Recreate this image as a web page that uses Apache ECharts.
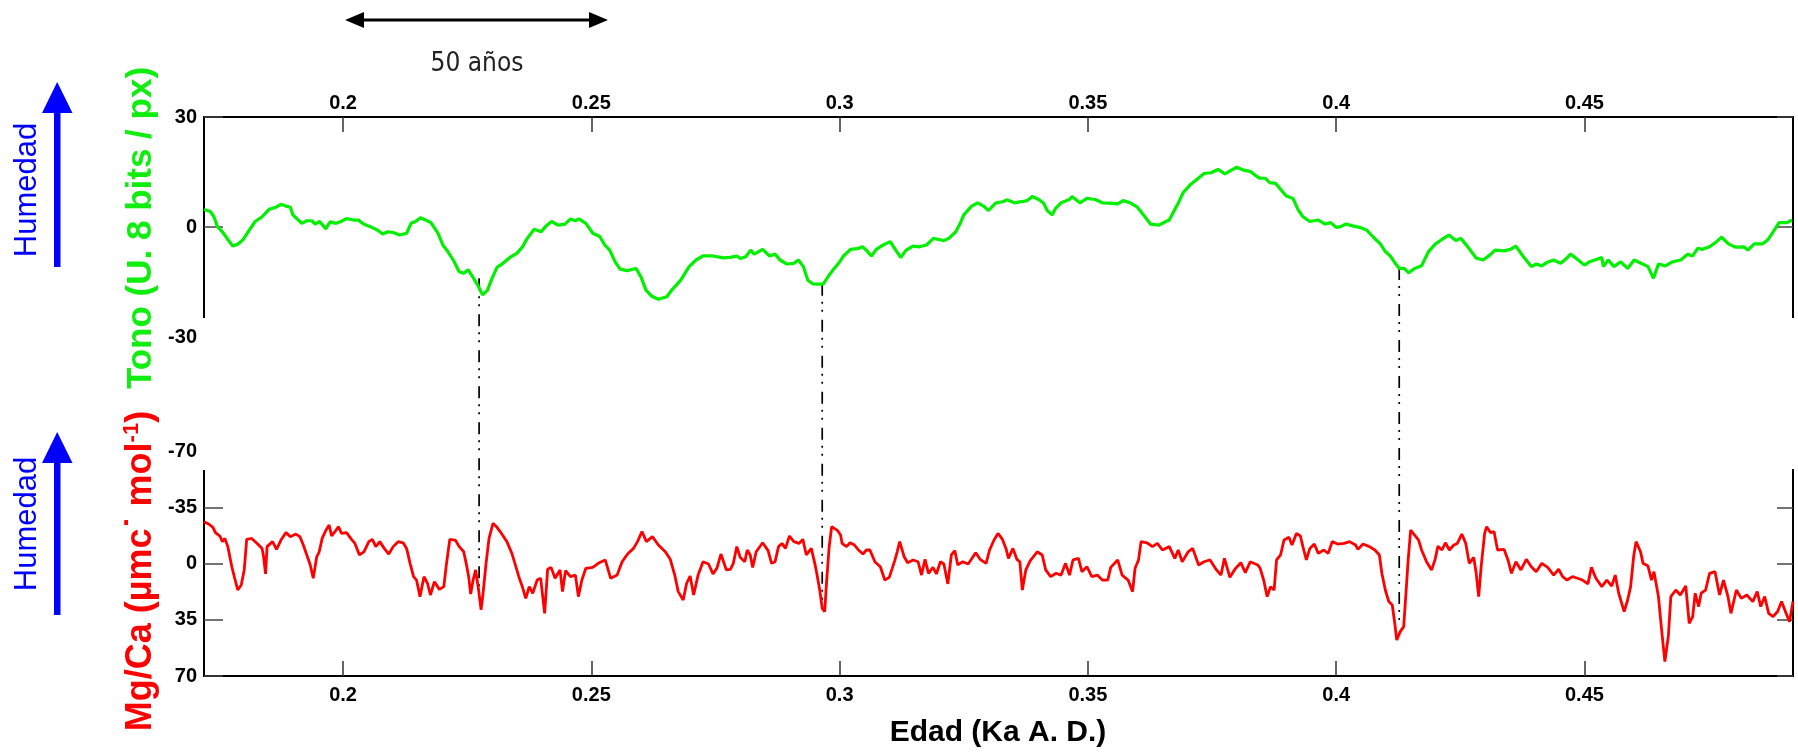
<!DOCTYPE html>
<html><head><meta charset="utf-8">
<script src="https://cdn.jsdelivr.net/npm/echarts@6/dist/echarts.min.js"></script>
<style>html,body{margin:0;padding:0;background:#fff}#c{width:1798px;height:752px}</style>
</head><body><div id="c"></div>
<script>
// ---- tick labels ----
const xTicks = [0.2, 0.25, 0.3, 0.35, 0.4, 0.45];
const tonoTicks = [-30, 0, 30];
const mgTicks = [-70, -35, 0, 35, 70];

// ---- Tono (green) series ----
const tonoX = [
0.1720,0.1733,0.1740,0.1747,0.1757,0.1768,0.1778,0.1788,0.1799,0.1809,
0.1823,0.1837,0.1851,0.1865,0.1875,0.1885,0.1894,0.1899,0.1917,0.1927,
0.1937,0.1944,0.1953,0.1965,0.1974,0.1986,0.1996,0.2007,0.2021,0.2031,
0.2041,0.2055,0.2069,0.2080,0.2090,0.2101,0.2114,0.2128,0.2137,0.2146,
0.2156,0.2166,0.2177,0.2191,0.2201,0.2211,0.2222,0.2234,0.2243,0.2252,
0.2263,0.2273,0.2281,0.2291,0.2300,0.2310,0.2322,0.2336,0.2350,0.2361,
0.2371,0.2385,0.2399,0.2409,0.2420,0.2433,0.2447,0.2458,0.2468,0.2475,
0.2489,0.2503,0.2517,0.2527,0.2537,0.2548,0.2558,0.2572,0.2590,0.2600,
0.2610,0.2621,0.2635,0.2652,0.2662,0.2680,0.2697,0.2711,0.2725,0.2745,
0.2766,
0.2780,0.2793,0.2800,0.2811,0.2821,0.2828,0.2845,0.2859,0.2870,0.2880,
0.2894,0.2908,0.2917,0.2927,0.2936,0.2946,0.2957,0.2967,0.2977,0.2988,
0.2998,0.3008,0.3022,0.3036,0.3046,0.3055,0.3064,0.3074,0.3088,0.3102,
0.3113,0.3123,0.3134,0.3148,0.3161,0.3175,0.3189,0.3200,0.3210,0.3220,
0.3234,0.3243,0.3250,0.3266,0.3278,0.3290,0.3300,0.3314,0.3328,0.3338,
0.3352,0.3366,0.3378,0.3388,0.3401,0.3411,0.3418,0.3428,0.3435,0.3446,
0.3463,0.3468,0.3484,0.3498,0.3515,0.3529,0.3543,0.3560,0.3571,0.3585,
0.3599,0.3612,0.3626,0.3643,0.3657,0.3664,0.3675,0.3682,0.3692,0.3706,
0.3720,0.3734,0.3748,0.3762,0.3776,0.3789,0.3800,0.3814,0.3828,0.3841,
0.3847,0.3857,0.3866,0.3878,0.3888,0.3899,0.3913,0.3923,0.3933,0.3947,
0.3964,0.3978,0.3989,0.4000,0.4009,0.4020,0.4033,0.4047,0.4061,0.4075,
0.4089,0.4099,0.4109,0.4118,0.4127,0.4137,0.4146,0.4158,0.4172,0.4186,
0.4200,0.4213,0.4227,0.4241,0.4251,0.4265,0.4282,0.4296,0.4310,0.4320,
0.4338,0.4351,0.4362,0.4376,0.4393,0.4403,0.4414,0.4424,0.4438,0.4452,
0.4462,0.4472,0.4483,0.4500,0.4510,0.4521,0.4535,0.4538,0.4548,0.4559,
0.4573,0.4587,0.4600,0.4614,0.4628,0.4639,0.4649,0.4663,0.4677,0.4694,
0.4708,0.4718,0.4728,0.4738,0.4752,0.4766,0.4776,0.4790,0.4804,0.4821,
0.4829,0.4842,0.4859,0.4870,0.4880,0.4892,0.4908,0.4918
];
const tonoY = [
4.8,4.2,2.8,0.1,-1.3,-3.4,-5.2,-4.7,-3.4,-1.3,
1.5,2.8,4.8,5.4,6.2,5.7,5.4,3.3,1.0,1.7,
1.7,0.8,1.5,-0.5,1.4,1.0,1.5,2.3,1.9,1.9,
0.8,0.1,-0.8,-1.9,-1.3,-1.5,-2.2,-1.7,1.0,1.5,
2.5,1.9,1.2,-1.7,-4.9,-6.7,-9.0,-12.2,-12.6,-11.7,
-14.0,-16.3,-18.5,-17.2,-14.0,-11.0,-9.9,-8.3,-7.2,-5.5,
-3.1,-0.6,-1.3,0.3,1.5,0.5,0.8,2.2,1.7,2.2,
1.0,-1.7,-2.6,-4.9,-6.3,-9.5,-11.5,-11.9,-11.3,-13.6,
-17.2,-18.8,-19.7,-19.0,-17.2,-14.5,-10.8,-9.0,-7.9,-7.9,
-8.4,
-8.3,-7.9,-8.6,-8.1,-6.3,-7.4,-6.1,-7.9,-7.4,-9.0,
-10.1,-9.9,-9.0,-10.8,-14.5,-15.5,-15.6,-15.6,-13.5,-11.5,
-9.9,-7.9,-6.1,-5.9,-5.4,-6.5,-7.9,-6.1,-4.9,-4.0,
-6.3,-8.3,-6.3,-5.2,-5.4,-4.9,-3.1,-3.4,-3.7,-3.1,
-1.3,1.0,3.3,5.7,6.6,5.7,4.5,6.5,6.9,7.4,
6.6,6.9,7.2,8.3,7.5,6.5,4.5,3.3,5.1,6.6,
7.5,8.3,6.6,7.8,7.5,6.6,6.5,6.3,7.2,6.6,
5.5,3.3,0.8,0.5,1.5,1.9,4.8,6.5,9.4,11.5,
13.0,14.6,14.8,15.7,14.5,15.5,16.3,15.5,15.1,13.7,
13.3,13.3,12.1,11.9,10.3,8.5,7.8,4.8,2.8,1.5,
1.9,0.8,1.2,-0.1,0.1,0.8,0.3,-0.1,-0.8,-2.8,
-4.6,-6.7,-7.9,-9.7,-11.3,-11.3,-12.5,-11.3,-10.6,-6.7,
-4.6,-3.4,-2.2,-3.7,-3.1,-5.4,-8.5,-9.0,-7.6,-6.3,
-6.5,-6.1,-5.2,-7.9,-10.8,-10.1,-10.6,-9.7,-9.0,-9.9,
-8.8,-7.4,-8.5,-10.4,-9.5,-9.0,-8.3,-10.8,-9.0,-10.8,
-9.5,-11.3,-9.0,-9.9,-10.8,-14.0,-10.1,-10.6,-9.5,-9.0,
-7.4,-7.9,-5.8,-6.1,-5.4,-4.0,-2.8,-4.6,-5.5,-5.4,
-6.3,-4.6,-4.6,-3.4,-1.3,1.2,1.2,1.9
];

// ---- Mg/Ca (red) series ----
const mgX = [
0.1720,0.1729,0.1738,0.1743,0.1752,0.1757,0.1762,0.1768,0.1776,0.1781,
0.1788,0.1795,0.1801,0.1806,0.1816,0.1827,0.1837,0.1840,0.1844,0.1847,
0.1858,0.1866,0.1875,0.1885,0.1894,0.1905,0.1913,0.1920,0.1927,0.1934,
0.1940,0.1947,0.1952,0.1958,0.1965,0.1972,0.1977,0.1986,0.1991,0.1997,
0.2007,0.2017,0.2024,0.2033,0.2042,0.2052,0.2059,0.2066,0.2074,0.2083,
0.2092,0.2101,0.2111,0.2121,0.2128,0.2135,0.2142,0.2148,0.2155,0.2163,
0.2170,0.2176,0.2184,0.2194,0.2203,0.2208,0.2215,0.2226,0.2234,0.2243,
0.2248,0.2253,0.2257,0.2262,0.2267,0.2273,0.2278,0.2282,0.2288,0.2294,
0.2302,0.2309,0.2319,0.2330,0.2340,0.2347,0.2354,0.2361,0.2368,0.2375,
0.2382,0.2391,0.2398,0.2406,0.2412,0.2419,0.2427,0.2437,0.2442,0.2448,
0.2458,0.2468,0.2474,0.2481,0.2489,0.2503,0.2516,0.2528,0.2539,0.2552,
0.2562,0.2573,0.2585,0.2593,0.2602,0.2611,0.2623,0.2635,0.2649,0.2659,
0.2668,0.2675,0.2685,0.2692,0.2699,0.2706,0.2715,0.2725,0.2736,0.2745,
0.2753,0.2761,0.2772,
0.2780,0.2786,0.2793,0.2800,0.2809,0.2814,0.2820,0.2825,0.2832,0.2845,
0.2856,0.2863,0.2870,0.2877,0.2884,0.2891,0.2899,0.2908,0.2918,0.2926,
0.2933,0.2943,0.2950,0.2954,0.2960,0.2965,0.2970,0.2974,0.2979,0.2984,
0.2995,0.3002,0.3005,0.3014,0.3021,0.3030,0.3038,0.3047,0.3054,0.3061,
0.3071,0.3082,0.3091,0.3100,0.3106,0.3111,0.3116,0.3121,0.3130,0.3137,
0.3148,0.3158,0.3165,0.3172,0.3179,0.3188,0.3195,0.3203,0.3210,0.3218,
0.3225,0.3232,0.3238,0.3248,0.3259,0.3274,0.3283,0.3295,0.3302,0.3311,
0.3319,0.3328,0.3335,0.3340,0.3349,0.3357,0.3363,0.3368,0.3375,0.3384,
0.3398,0.3408,0.3415,0.3425,0.3436,0.3446,0.3455,0.3463,0.3470,0.3481,
0.3488,0.3498,0.3508,0.3519,0.3529,0.3540,0.3546,0.3560,0.3569,0.3581,
0.3590,0.3595,0.3602,0.3607,0.3619,0.3630,0.3640,0.3650,0.3664,0.3675,
0.3682,0.3690,0.3702,0.3711,0.3723,0.3734,0.3746,0.3759,0.3768,0.3775,
0.3786,0.3796,0.3808,0.3817,0.3827,0.3842,
0.3847,0.3854,0.3861,0.3868,0.3875,0.3880,0.3888,0.3895,0.3905,0.3911,
0.3920,0.3928,0.3933,0.3940,0.3947,0.3956,0.3964,0.3975,0.3984,0.3992,
0.4003,0.4016,0.4027,0.4039,0.4044,0.4054,0.4067,0.4078,0.4087,0.4092,
0.4099,0.4106,0.4113,0.4118,0.4122,0.4129,0.4136,0.4141,0.4145,0.4150,
0.4158,0.4166,0.4172,0.4182,0.4192,0.4199,0.4205,0.4213,0.4220,0.4228,
0.4237,0.4244,0.4253,0.4261,0.4268,0.4277,0.4282,0.4287,0.4292,0.4299,
0.4303,0.4311,0.4318,0.4325,0.4338,0.4346,0.4353,0.4362,0.4372,0.4383,
0.4393,0.4403,0.4414,0.4426,0.4438,0.4448,0.4456,0.4465,0.4476,0.4486,
0.4496,0.4507,0.4514,0.4523,0.4535,0.4545,0.4555,0.4562,0.4569,0.4580,
0.4587,0.4593,0.4599,0.4604,0.4613,0.4618,0.4628,0.4635,0.4640,0.4649,
0.4655,0.4662,0.4669,0.4674,0.4684,0.4693,0.4704,0.4711,0.4718,0.4723,
0.4730,0.4735,0.4744,0.4752,0.4763,0.4772,0.4780,0.4789,0.4795,0.4806,
0.4816,0.4827,0.4839,0.4848,0.4855,0.4863,0.4871,0.4880,0.4889,0.4897,
0.4906,0.4913,0.4920
];
const mgY = [
-26.0,-24.6,-22.5,-19.2,-17.1,-13.6,-15.6,-10.5,2.0,8.2,
16.5,13.4,4.0,-15.0,-15.6,-12.5,-9.4,-4.2,6.5,-10.5,
-13.6,-8.8,-14.6,-19.2,-16.7,-18.3,-16.7,-11.5,-5.3,0.9,
9.2,-4.2,-7.3,-15.6,-20.4,-23.9,-17.1,-20.8,-22.9,-18.7,
-19.2,-15.0,-12.5,-5.3,-7.3,-13.6,-15.0,-10.5,-13.6,-9.4,
-5.9,-10.5,-13.6,-12.9,-9.4,-0.1,8.2,10.3,20.6,8.2,
12.3,19.6,11.3,16.1,14.4,0.9,-15.0,-14.6,-10.5,-7.3,
-0.1,8.2,19.0,10.3,4.0,16.5,28.9,18.5,-0.1,-15.6,
-25.0,-22.9,-18.7,-13.6,-6.3,0.9,8.2,14.4,21.7,14.4,
18.5,10.3,9.2,31.0,3.6,2.4,9.2,4.0,17.5,4.5,
8.2,7.2,20.6,10.3,3.0,2.4,-0.5,-2.2,9.2,7.2,
-1.1,-5.9,-9.4,-13.6,-19.8,-13.6,-16.7,-11.5,-7.3,-2.6,
7.2,17.5,22.7,12.3,7.8,19.6,7.2,-1.1,0.3,6.5,
2.9,-5.9,4.0,
3.6,-0.1,-10.5,-3.8,-1.1,-8.4,-5.3,2.4,-7.3,-12.9,
-8.0,-0.1,-1.1,-10.5,-12.5,-9.4,-17.1,-13.6,-12.5,-15.0,
-5.3,-9.4,-0.1,6.1,16.5,27.9,29.9,10.3,-10.5,-22.9,
-20.8,-17.7,-12.5,-10.5,-12.9,-11.5,-8.4,-5.9,-8.4,-8.4,
-1.1,2.0,10.3,8.6,3.0,-1.8,-7.3,-13.6,-4.2,-0.5,
-2.2,-1.1,7.2,-2.6,6.1,2.4,6.5,-1.1,0.3,12.7,
-5.3,-8.0,0.9,-1.1,0.3,-6.7,-2.6,-0.1,-8.4,-14.6,
-18.7,-15.0,-9.4,-3.2,-9.4,-2.6,-1.1,16.5,4.0,-1.8,
-7.3,-5.3,4.0,8.2,6.1,7.2,-0.1,7.2,-2.2,-3.2,
5.1,2.0,8.2,7.2,10.3,10.3,2.4,-2.2,7.2,10.3,
17.5,3.0,-2.2,-13.6,-12.9,-10.5,-12.5,-8.4,-10.5,-3.2,
-8.4,-1.1,-7.3,-9.4,0.9,-1.1,-2.2,4.0,7.2,-3.2,
8.6,3.6,-0.5,5.7,-1.1,0.9,
3.0,10.3,20.6,14.4,16.5,-2.2,-5.3,-14.6,-16.3,-11.5,
-18.7,-17.1,-10.5,-2.2,-9.4,-12.1,-6.3,-8.4,-6.3,-13.6,
-12.1,-12.5,-13.6,-11.5,-8.8,-12.1,-10.5,-8.4,-5.3,6.1,
16.5,23.7,25.8,37.2,47.6,42.4,39.3,16.5,-2.2,-20.8,
-17.7,-14.6,-8.4,-1.1,4.0,-2.2,-10.8,-8.4,-12.9,-8.4,
-11.5,-12.5,-18.3,-12.5,-0.1,-3.8,6.1,20.6,2.0,-18.7,
-22.9,-19.2,-19.8,-8.4,-8.8,-2.2,6.1,-1.1,4.0,-2.6,
2.0,5.1,-0.1,2.4,7.2,3.6,8.2,10.3,8.2,9.2,
10.3,12.7,2.4,9.2,14.4,10.3,14.0,7.2,18.5,29.9,
22.7,14.4,-4.2,-13.6,-7.3,-0.1,1.6,10.3,5.1,20.6,
40.0,61.0,45.0,20.6,16.5,19.6,14.0,37.2,33.0,18.5,
26.8,18.5,16.5,6.1,5.1,19.6,10.3,20.6,31.0,16.5,
21.7,19.6,23.7,17.5,26.8,20.6,31.0,33.0,29.9,23.7,
31.0,36.2,23.7
];

// ---- dash-dot correlation lines (x, top in Tono units, bottom in Mg/Ca units) ----
const connX = [0.2274, 0.2965, 0.4127];
const connTono = [-14.0, -15.5, -11.2];
const connMg = [22, 28, 40];

const FONT = '"Liberation Sans", Arial, Helvetica, sans-serif';
const chart = echarts.init(document.getElementById('c'), null, {renderer: 'canvas'});

const fmtX = v => String(+(+v).toFixed(2));
const tickLab = {fontSize: 20, fontWeight: 'bold', color: '#000', fontFamily: FONT};

function xAxisCfg(grid, pos, margin) {
  return {
    type: 'value', gridIndex: grid, position: pos, min: 0.172, max: 0.492,
    axisLine: {show: true, onZero: false, lineStyle: {color: '#000', width: 2}},
    axisTick: {show: true, inside: true, length: 15, customValues: xTicks, lineStyle: {color: '#333', width: 1.5}},
    axisLabel: Object.assign({customValues: xTicks, formatter: fmtX, margin: margin}, tickLab),
    splitLine: {show: false}
  };
}
function yAxisCfg(grid, pos, min, max, inverse, ticks, labels, len) {
  return {
    type: 'value', gridIndex: grid, position: pos, min: min, max: max, inverse: inverse,
    axisLine: {show: false},
    axisTick: {show: true, inside: true, length: len, customValues: ticks, lineStyle: {color: '#444', width: 1.5}},
    axisLabel: labels ? Object.assign({customValues: labels, margin: 7}, tickLab) : {show: false},
    splitLine: {show: false}
  };
}

const option = {
  animation: false,
  backgroundColor: '#fff',
  grid: [
    {left: 204, right: 5, top: 117, height: 220, outerBoundsMode: 'none'},
    {left: 204, right: 5, top: 451, height: 225, outerBoundsMode: 'none'}
  ],
  xAxis: [xAxisCfg(0, 'top', 4), xAxisCfg(1, 'bottom', 9)],
  yAxis: [
    yAxisCfg(0, 'left', -30, 30, false, [0, 30], tonoTicks, 19),
    yAxisCfg(0, 'right', -30, 30, false, [0, 30], null, 16),
    yAxisCfg(1, 'left', -70, 70, true, [-35, 0, 35, 70], mgTicks, 19),
    yAxisCfg(1, 'right', -70, 70, true, [-35, 0, 35, 70], null, 16)
  ],
  series: [
    {type: 'line', xAxisIndex: 0, yAxisIndex: 0, showSymbol: false, silent: true, z: 3,
     lineStyle: {color: '#00f000', width: 3.2}, data: tonoX.map((x, i) => [x, tonoY[i]])},
    {type: 'line', xAxisIndex: 1, yAxisIndex: 2, showSymbol: false, silent: true, z: 3,
     lineStyle: {color: '#ff0000', width: 2.8}, data: mgX.map((x, i) => [x, mgY[i]])}
  ]
};
chart.setOption(option);

// ---- decorations ----
const g = [];
function line(x1, y1, x2, y2, w, c, extra) {
  g.push(Object.assign({type: 'line', silent: true, shape: {x1, y1, x2, y2},
    style: {stroke: c || '#000', lineWidth: w || 2}}, extra || {}));
}
// frame pieces (truncated side axes as in the original figure)
line(204, 116, 204, 318, 2);
line(1793, 116, 1793, 318, 2);
line(204, 470, 204, 677, 2);
line(1793, 469, 1793, 677, 2);

// correlation lines
connX.forEach((x, i) => {
  const p1 = chart.convertToPixel({xAxisIndex: 0, yAxisIndex: 0}, [x, connTono[i]]);
  const p2 = chart.convertToPixel({xAxisIndex: 1, yAxisIndex: 2}, [x, connMg[i]]);
  g.push({type: 'line', silent: true, z: 1, shape: {x1: p1[0], y1: p1[1], x2: p2[0], y2: p2[1]},
    style: {stroke: '#000', lineWidth: 1.7, lineDash: [12, 6, 2, 6, 2, 8]}});
});

// 50 años scale arrow
line(360, 20, 593, 20, 3, '#000');
g.push({type: 'polygon', silent: true, shape: {points: [[345, 20], [364, 12], [364, 28]]}, style: {fill: '#000'}});
g.push({type: 'polygon', silent: true, shape: {points: [[608, 20], [589, 12], [589, 28]]}, style: {fill: '#000'}});
g.push({type: 'text', silent: true, x: 477, y: 64, style: {text: '50 años', fill: '#222',
  font: '26px "DejaVu Sans Condensed", "Liberation Sans Narrow", "Liberation Sans", sans-serif',
  align: 'center', verticalAlign: 'middle'}});

// humidity arrows
function arrow(tip, base, bottom) {
  g.push({type: 'rect', silent: true, shape: {x: 54, y: base - 2, width: 6.5, height: bottom - base + 2}, style: {fill: '#0000ff'}});
  g.push({type: 'polygon', silent: true, shape: {points: [[57.2, tip], [42, base], [72.5, base]]}, style: {fill: '#0000ff'}});
}
arrow(82, 113, 267);
arrow(432, 463, 615);

function vtext(txt, x, y, font, color, rich) {
  g.push({type: 'text', silent: true, x: x, y: y, rotation: Math.PI / 2,
    style: {text: txt, fill: color, font: font, align: 'center', verticalAlign: 'middle', rich: rich}});
}
vtext('Humedad', 27, 190, '31px ' + FONT, '#0000ff');
vtext('Humedad', 27, 524, '31px ' + FONT, '#0000ff');
vtext('Tono (U. 8 bits / px)', 141, 228, 'bold 35px ' + FONT, '#10ee10');
vtext('{m|Mg/Ca (µmc˙ mol}{s|-1}{m|)}', 141, 571, 'bold 36px ' + FONT, '#ff0000', {
  m: {font: 'bold 36px ' + FONT, fill: '#ff0000'},
  s: {font: 'bold 22px ' + FONT, fill: '#ff0000', padding: [0, 0, 18, 0]}
});

// x axis title
g.push({type: 'text', silent: true, x: 998, y: 733, style: {text: 'Edad (Ka A. D.)', fill: '#000',
  font: 'bold 30px ' + FONT, align: 'center', verticalAlign: 'middle'}});

chart.setOption({graphic: g});
</script>
</body></html>
